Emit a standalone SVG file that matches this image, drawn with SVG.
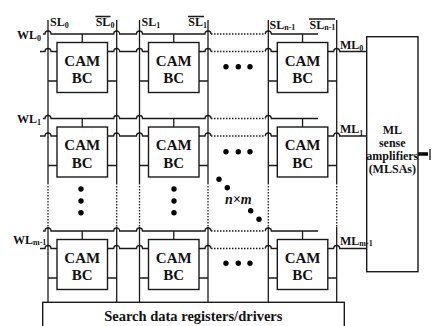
<svg xmlns="http://www.w3.org/2000/svg" width="433" height="326" viewBox="0 0 433 326">
<style>
.w{fill:none;stroke:#1a1a1a;stroke-width:1.3}
.d{fill:none;stroke:#1a1a1a;stroke-width:1.3;stroke-dasharray:1.5 1.5}
.box{fill:#fff;stroke:#1a1a1a;stroke-width:1.4}
.t{font-weight:bold;fill:#111}
.cam{font-size:15px;text-anchor:middle}
.lb{font-size:12px}
.sub{font-size:8px}
.dot{fill:#000}
</style>
<rect width="433" height="326" fill="#fff"/>
<g id="connectors">
<path class="w" d="M48,20V183M116.7,20V183M139.5,20V183M208,20V183M268.3,20V183M336.7,20V183"/>
<path class="d" d="M48,183V227M116.7,183V227M139.5,183V227M208,183V227M268.3,183V227M336.7,183V227"/>
<path class="w" d="M48,227V302.3M116.7,227V302.3M139.5,227V302.3M208,227V302.3M268.3,227V302.3M336.7,227V302.3"/>
<path class="w" d="M43,34H45a3,3 0 0 1 6,0H113.7a3,3 0 0 1 6,0H136.5a3,3 0 0 1 6,0H205a3,3 0 0 1 6,0M265.3,34a3,3 0 0 1 6,0H318"/>
<path class="d" d="M211,34H265.3"/>
<path class="w" d="M43,118.5H45a3,3 0 0 1 6,0H113.7a3,3 0 0 1 6,0H136.5a3,3 0 0 1 6,0H205a3,3 0 0 1 6,0M265.3,118.5a3,3 0 0 1 6,0H318"/>
<path class="d" d="M211,118.5H265.3"/>
<path class="w" d="M43,231H45a3,3 0 0 1 6,0H113.7a3,3 0 0 1 6,0H136.5a3,3 0 0 1 6,0H205a3,3 0 0 1 6,0M265.3,231a3,3 0 0 1 6,0H318"/>
<path class="d" d="M211,231H265.3"/>
<path class="w" d="M82.25,34V42.5M173.75,34V42.5M302.55,34V42.5M82.25,118.5V127M173.75,118.5V127M302.55,118.5V127M82.25,231V239.5M173.75,231V239.5M302.55,231V239.5"/>
<path class="w" d="M40,51.5H45a3,3 0 0 1 6,0H57M107.5,51.5H113.7a3,3 0 0 1 6,0H136.5a3,3 0 0 1 6,0H148.5M199,51.5H205a3,3 0 0 1 6,0M265.3,51.5a3,3 0 0 1 6,0H277.3M327.8,51.5H333.7a3,3 0 0 1 6,0H366.7"/>
<path class="d" d="M211,51.5H265.3"/>
<path class="w" d="M40,136H45a3,3 0 0 1 6,0H57M107.5,136H113.7a3,3 0 0 1 6,0H136.5a3,3 0 0 1 6,0H148.5M199,136H205a3,3 0 0 1 6,0M265.3,136a3,3 0 0 1 6,0H277.3M327.8,136H333.7a3,3 0 0 1 6,0H366.7"/>
<path class="d" d="M211,136H265.3"/>
<path class="w" d="M40,248.5H45a3,3 0 0 1 6,0H57M107.5,248.5H113.7a3,3 0 0 1 6,0H136.5a3,3 0 0 1 6,0H148.5M199,248.5H205a3,3 0 0 1 6,0M265.3,248.5a3,3 0 0 1 6,0H277.3M327.8,248.5H333.7a3,3 0 0 1 6,0H366.7"/>
<path class="d" d="M211,248.5H265.3"/>
<path class="w" d="M48,81H57M107.5,81H116.7M139.5,81H148.5M199,81H208M268.3,81H277.3M327.8,81H336.7"/>
<path class="w" d="M48,165.5H57M107.5,165.5H116.7M139.5,165.5H148.5M199,165.5H208M268.3,165.5H277.3M327.8,165.5H336.7"/>
<path class="w" d="M48,278H57M107.5,278H116.7M139.5,278H148.5M199,278H208M268.3,278H277.3M327.8,278H336.7"/>
<path fill="none" stroke="#000" stroke-width="3.5" d="M418,154H428"/>
<path class="w" d="M430,149V160"/>
</g>
<g font-family="'Liberation Serif', 'Times New Roman', 'DejaVu Serif', serif">
<g id="cell-0-0"><rect class="box" x="57" y="42.5" width="50.5" height="50"/><text class="t cam" x="82.25" y="65.5">CAM</text><text class="t cam" x="82.25" y="83">BC</text></g>
<g id="cell-0-1"><rect class="box" x="148.5" y="42.5" width="50.5" height="50"/><text class="t cam" x="173.75" y="65.5">CAM</text><text class="t cam" x="173.75" y="83">BC</text></g>
<g id="cell-0-n"><rect class="box" x="277.3" y="42.5" width="50.5" height="50"/><text class="t cam" x="302.55" y="65.5">CAM</text><text class="t cam" x="302.55" y="83">BC</text></g>
<g id="cell-1-0"><rect class="box" x="57" y="127" width="50.5" height="50"/><text class="t cam" x="82.25" y="150">CAM</text><text class="t cam" x="82.25" y="167.5">BC</text></g>
<g id="cell-1-1"><rect class="box" x="148.5" y="127" width="50.5" height="50"/><text class="t cam" x="173.75" y="150">CAM</text><text class="t cam" x="173.75" y="167.5">BC</text></g>
<g id="cell-1-n"><rect class="box" x="277.3" y="127" width="50.5" height="50"/><text class="t cam" x="302.55" y="150">CAM</text><text class="t cam" x="302.55" y="167.5">BC</text></g>
<g id="cell-m-0"><rect class="box" x="57" y="239.5" width="50.5" height="50"/><text class="t cam" x="82.25" y="262.5">CAM</text><text class="t cam" x="82.25" y="280">BC</text></g>
<g id="cell-m-1"><rect class="box" x="148.5" y="239.5" width="50.5" height="50"/><text class="t cam" x="173.75" y="262.5">CAM</text><text class="t cam" x="173.75" y="280">BC</text></g>
<g id="cell-m-n"><rect class="box" x="277.3" y="239.5" width="50.5" height="50"/><text class="t cam" x="302.55" y="262.5">CAM</text><text class="t cam" x="302.55" y="280">BC</text></g>
<g id="mlsa"><rect class="box" x="366.7" y="36.7" width="51.3" height="235"/>
<text class="t lb" text-anchor="middle" x="392.3" y="134">ML</text>
<text class="t lb" text-anchor="middle" x="392.3" y="147">sense</text>
<text class="t lb" text-anchor="middle" x="392.3" y="160">amplifiers</text>
<text class="t lb" text-anchor="middle" x="392.3" y="172.5">(MLSAs)</text></g>
<g id="search"><rect class="box" x="42.7" y="302.3" width="301.6" height="30"/>
<text class="t" font-size="14.5" text-anchor="middle" x="193.3" y="321">Search data registers/drivers</text></g>
<g id="labels">
<text class="t lb" x="17" y="38.5">WL<tspan class="sub" dy="2.5">0</tspan></text>
<text class="t lb" x="17" y="122.5">WL<tspan class="sub" dy="2.5">1</tspan></text>
<text class="t lb" x="13" y="244">WL<tspan class="sub" dy="1">m-1</tspan></text>
<text class="t lb" x="50" y="26">SL<tspan class="sub" dy="2">0</tspan></text>
<text class="t lb" x="95.7" y="26">SL<tspan class="sub" dy="2">0</tspan></text>
<text class="t lb" x="141.5" y="26">SL<tspan class="sub" dy="2">1</tspan></text>
<text class="t lb" x="188.3" y="26">SL<tspan class="sub" dy="2">1</tspan></text>
<text class="t lb" x="269.5" y="28.5">SL<tspan class="sub" dy="1.5">n-1</tspan></text>
<text class="t lb" x="309.5" y="28.5">SL<tspan class="sub" dy="1.5">n-1</tspan></text>
<path class="w" d="M95.5,16.5H110.5M188,16.5H204M309,19H335"/>
<text class="t lb" x="340" y="48.5">ML<tspan class="sub" dy="2.5">0</tspan></text>
<text class="t lb" x="340" y="133">ML<tspan class="sub" dy="2.5">1</tspan></text>
<text class="t lb" x="340" y="244.5">ML<tspan class="sub" dy="1.5">m-1</tspan></text>
<text class="t" font-size="14" font-style="italic" x="225" y="204">n×m</text>
</g>
</g>
<g id="dots">
<circle class="dot" cx="226" cy="66.7" r="2.7"/><circle class="dot" cx="238.3" cy="66.7" r="2.7"/><circle class="dot" cx="250" cy="66.7" r="2.7"/>
<circle class="dot" cx="226" cy="151.7" r="2.7"/><circle class="dot" cx="238.3" cy="151.7" r="2.7"/><circle class="dot" cx="250" cy="151.7" r="2.7"/>
<circle class="dot" cx="226" cy="263.3" r="2.7"/><circle class="dot" cx="238.3" cy="263.3" r="2.7"/><circle class="dot" cx="250" cy="263.3" r="2.7"/>
<circle class="dot" cx="81" cy="189" r="2.7"/><circle class="dot" cx="81" cy="201" r="2.7"/><circle class="dot" cx="81" cy="212.7" r="2.7"/>
<circle class="dot" cx="174" cy="189" r="2.7"/><circle class="dot" cx="174" cy="201" r="2.7"/><circle class="dot" cx="174" cy="212.7" r="2.7"/>
<circle class="dot" cx="219" cy="179.3" r="2.7"/><circle class="dot" cx="227.3" cy="187.7" r="2.7"/><circle class="dot" cx="250.7" cy="210.7" r="2.7"/><circle class="dot" cx="259" cy="219.3" r="2.7"/>
</g>
</svg>
